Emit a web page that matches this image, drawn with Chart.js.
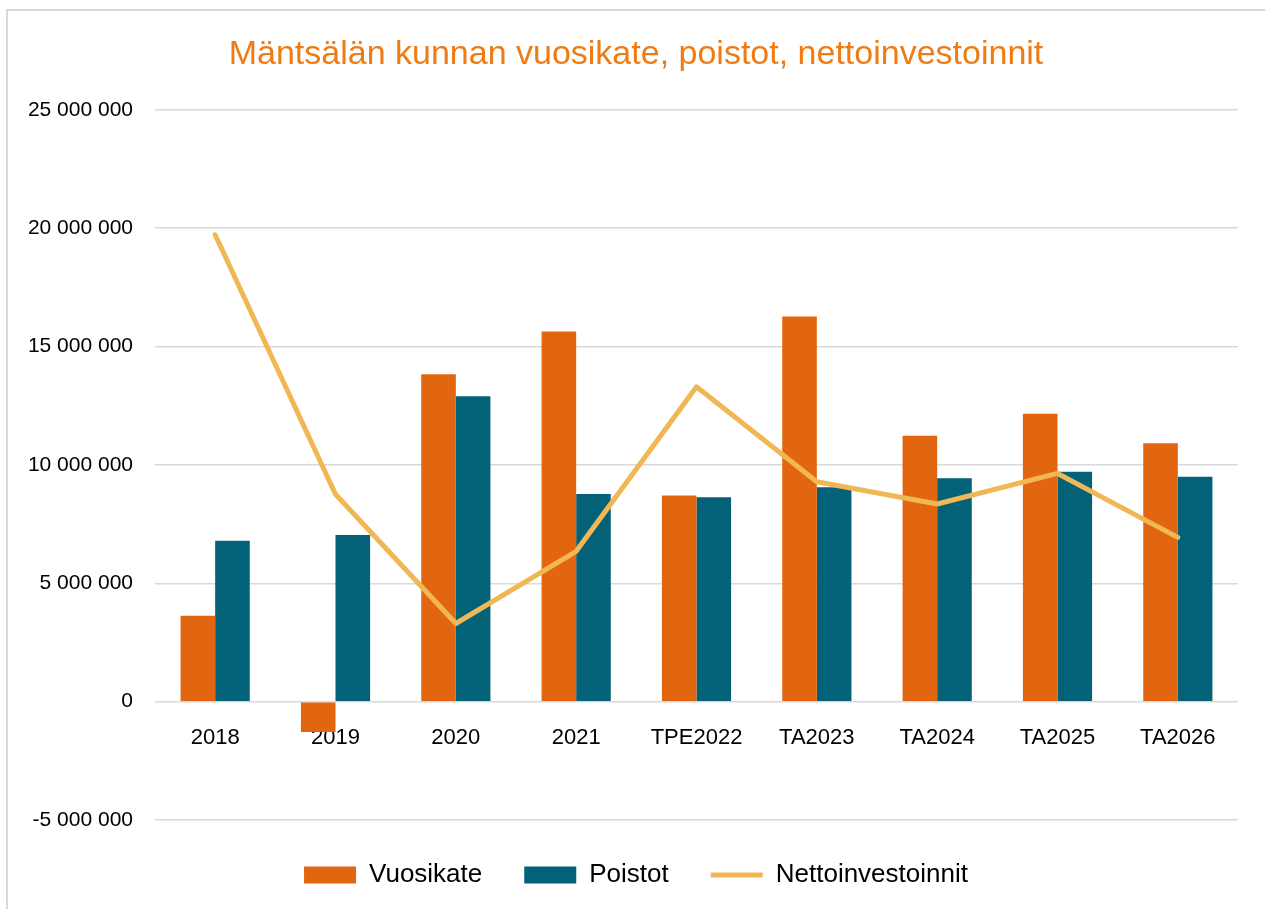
<!DOCTYPE html>
<html>
<head>
<meta charset="utf-8">
<script src="https://cdn.jsdelivr.net/npm/chart.js@4.4.1/dist/chart.umd.min.js"></script>
<style>
  html, body { margin: 0; padding: 0; background: #fff; overflow: hidden; }
  #wrap { position: absolute; left: 0; top: 0; width: 1265px; height: 909px; }
  #frame { position: absolute; left: 6px; top: 9px; width: 1300px; height: 950px;
           border-left: 2px solid #d9d9d9; border-top: 2px solid #d9d9d9; }
</style>
</head>
<body>
<div id="frame"></div>
<div id="wrap"><canvas id="myChart" width="1265" height="909"></canvas></div>
<script>
// chart data
const categories = ['2018', '2019', '2020', '2021', 'TPE2022', 'TA2023', 'TA2024', 'TA2025', 'TA2026'];
const vuosikate = [3630000, -1280000, 13830000, 15630000, 8710000, 16270000, 11230000, 12160000, 10910000];
const poistot = [6800000, 7040000, 12900000, 8770000, 8630000, 9060000, 9440000, 9710000, 9500000];
const nettoinvestoinnit = [19720000, 8760000, 3300000, 6350000, 13300000, 9290000, 8350000, 9640000, 6940000];
const yTicks = [-5000000, 0, 5000000, 10000000, 15000000, 20000000, 25000000];

const orange = '#e2660f';
const teal = '#036178';
const yellow = '#f2b755';
const fontFamily = '"Liberation Sans", Arial, sans-serif';

function fmt(v) {
    return v.toString().replace(/\B(?=(\d{3})+(?!\d))/g, ' ');
}

const ctx = document.getElementById('myChart');
new Chart(ctx, {
    type: 'bar',
    data: {
        labels: categories,
        datasets: [{
            label: 'Vuosikate',
            data: vuosikate,
            backgroundColor: orange,
            borderWidth: 0,
            order: 1,
            pointStyle: 'rect',
            categoryPercentage: 0.575,
            barPercentage: 1,
        }, {
            label: 'Poistot',
            data: poistot,
            backgroundColor: teal,
            borderWidth: 0,
            order: 1,
            pointStyle: 'rect',
            categoryPercentage: 0.575,
            barPercentage: 1,
        }, {
            type: 'line',
            label: 'Nettoinvestoinnit',
            data: nettoinvestoinnit,
            borderColor: yellow,
            backgroundColor: yellow,
            borderWidth: 5,
            borderCapStyle: 'round',
            borderJoinStyle: 'round',
            pointRadius: 0,
            pointHoverRadius: 0,
            pointStyle: 'line',
            tension: 0,
            fill: false,
            order: 0,
        }]
    },
    options: {
        responsive: false,
        animation: false,
        layout: { padding: { top: 0, right: 0, bottom: 11, left: 7 } },
        plugins: {
            title: {
                display: true,
                text: 'Mäntsälän kunnan vuosikate, poistot, nettoinvestoinnit',
                color: '#ee7b13',
                font: { family: fontFamily, size: 34, weight: 'normal', lineHeight: 1.2 },
                padding: { top: 34, bottom: 35 },
            },
            legend: {
                position: 'bottom',
                labels: {
                    usePointStyle: true,
                    pointStyleWidth: 52,
                    boxHeight: 17,
                    padding: 42,
                    color: '#000',
                    font: { family: fontFamily, size: 26 },
                    sort: (a, b) => a.datasetIndex - b.datasetIndex,
                },
            },
            tooltip: { enabled: false },
        },
        scales: {
            x: {
                position: { y: 0 },
                grid: { display: false, drawTicks: false },
                border: { display: false },
                ticks: {
                    color: '#000',
                    padding: 23,
                    font: { family: fontFamily, size: 22 },
                },
            },
            y: {
                min: -5000000,
                max: 25000000,
                afterBuildTicks: (scale) => { scale.ticks = yTicks.map(v => ({ value: v })); },
                afterFit: (scale) => { scale.width = 148; },
                grid: { color: '#d9d9d9', lineWidth: 1.5, drawTicks: false },
                border: { display: false },
                ticks: {
                    color: '#000',
                    padding: 22,
                    font: { family: fontFamily, size: 21 },
                    callback: (v) => fmt(v),
                },
            },
            // empty axis on the right, only keeps the plot away from the edge
            yRight: {
                position: 'right',
                min: 0,
                max: 1,
                afterFit: (scale) => { scale.width = 27; },
                grid: { display: false, drawTicks: false },
                border: { display: false },
                ticks: { display: false },
            },
        },
    },
});
</script>
</body>
</html>
